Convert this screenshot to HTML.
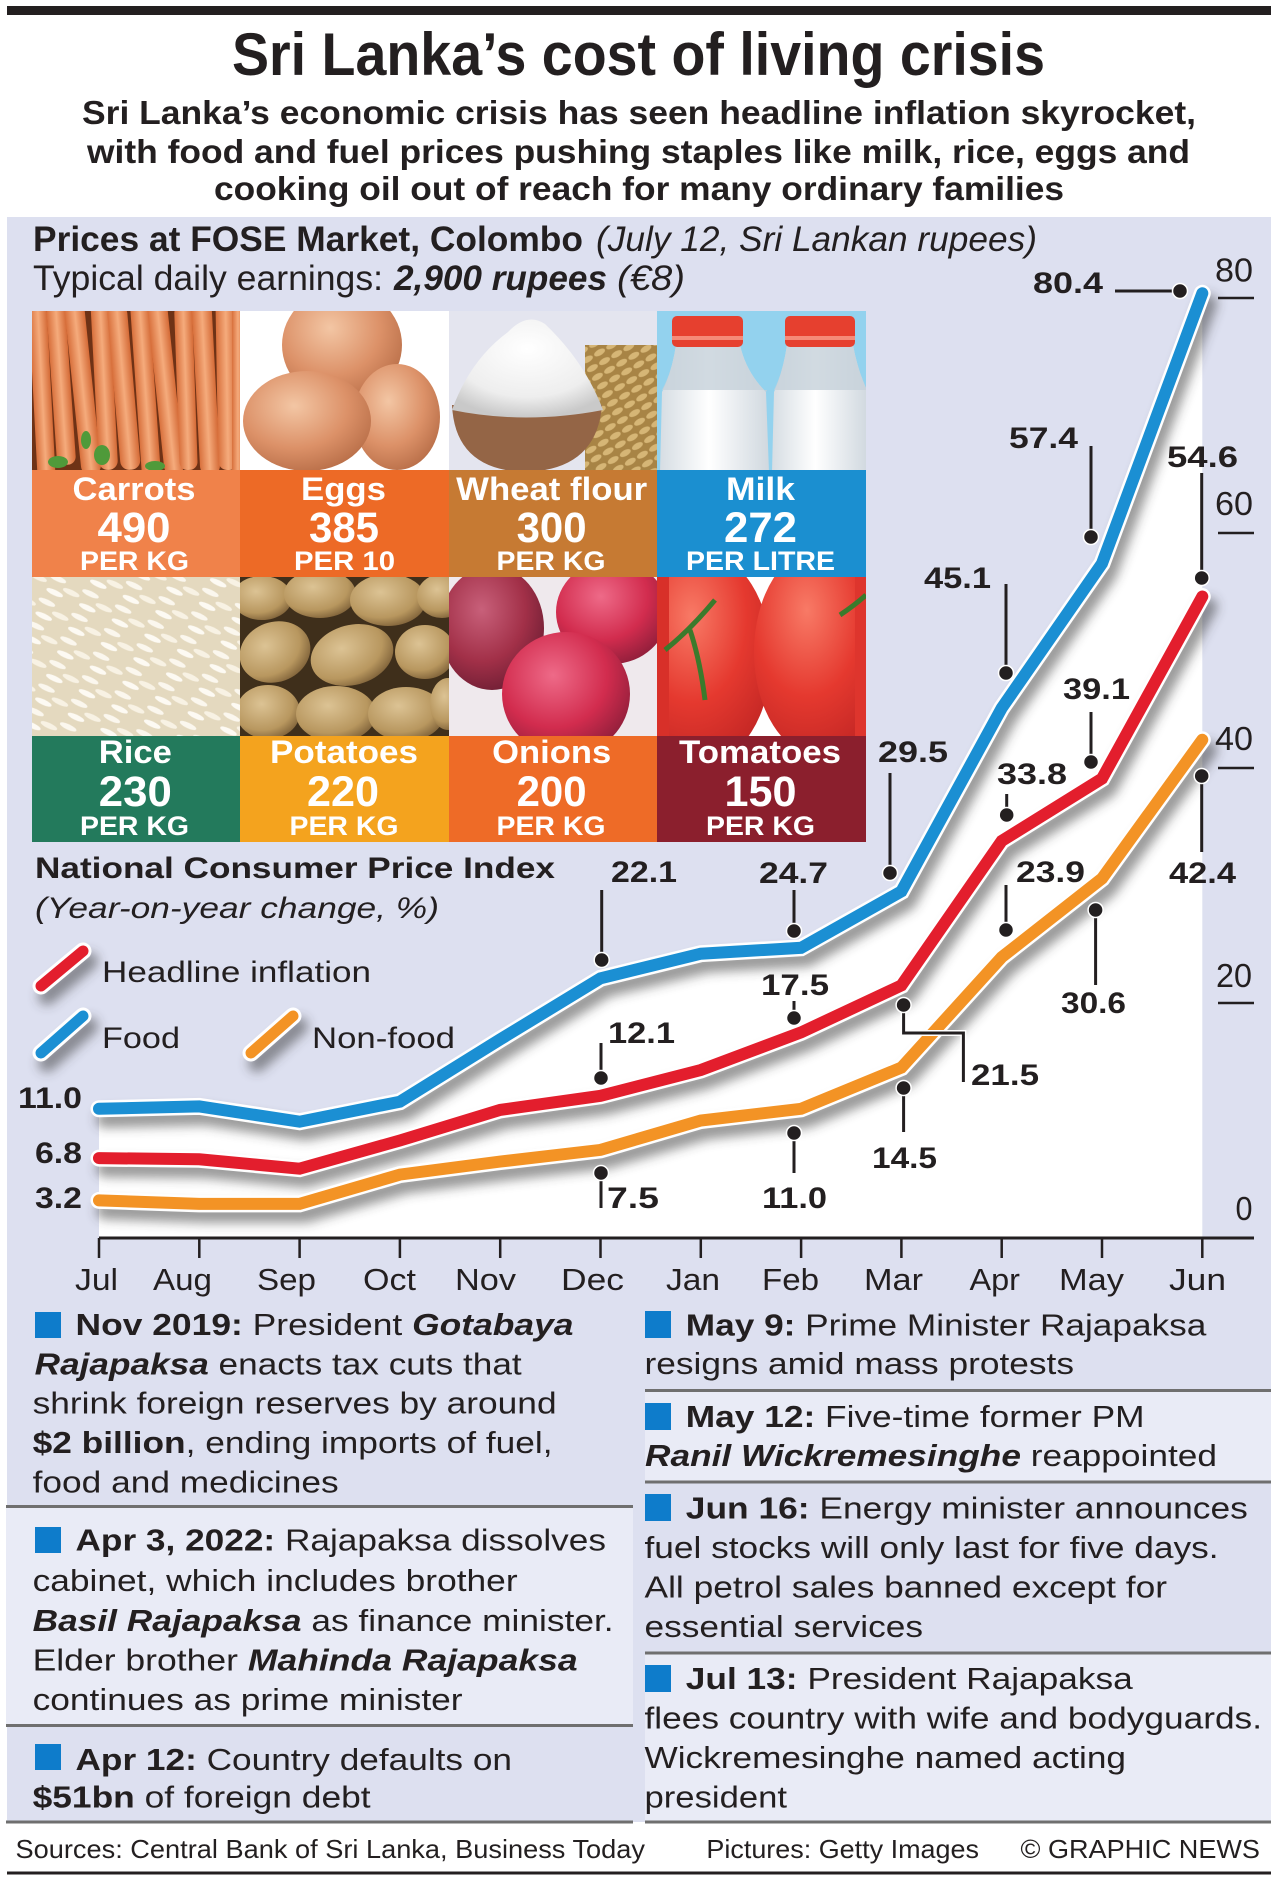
<!DOCTYPE html>
<html><head><meta charset="utf-8"><style>
html,body{margin:0;padding:0;background:#fff}
svg{display:block}
.t{font-family:"Liberation Sans",Arial,Helvetica,sans-serif;fill:#231f20}
.b{font-weight:bold}
.i{font-style:italic}
.w{fill:#fff;font-weight:bold;font-family:"Liberation Sans",Arial,Helvetica,sans-serif}
</style></head><body>
<svg width="1278" height="1878" viewBox="0 0 1278 1878" xmlns="http://www.w3.org/2000/svg">
<defs>
<filter id="blur" x="-20%" y="-20%" width="140%" height="140%"><feGaussianBlur stdDeviation="5.5"/></filter>
<linearGradient id="carrot" x1="0" x2="1" y1="0" y2="0"><stop offset="0" stop-color="#d8703c"/><stop offset="0.5" stop-color="#f5ab7c"/><stop offset="1" stop-color="#d46a36"/></linearGradient>
<radialGradient id="egg" cx="0.4" cy="0.35" r="0.7"><stop offset="0" stop-color="#f3c6a4"/><stop offset="0.6" stop-color="#dc9168"/><stop offset="1" stop-color="#b86e48"/></radialGradient>
<radialGradient id="pot" cx="0.4" cy="0.35" r="0.7"><stop offset="0" stop-color="#dcc394"/><stop offset="0.7" stop-color="#b8975f"/><stop offset="1" stop-color="#7d6038"/></radialGradient>
<radialGradient id="onion" cx="0.4" cy="0.35" r="0.7"><stop offset="0" stop-color="#ee6a88"/><stop offset="0.6" stop-color="#d22c4e"/><stop offset="1" stop-color="#8e1e3a"/></radialGradient>
<radialGradient id="onion2" cx="0.4" cy="0.35" r="0.7"><stop offset="0" stop-color="#c8607a"/><stop offset="0.6" stop-color="#a23048"/><stop offset="1" stop-color="#6e1e34"/></radialGradient>
<radialGradient id="tom" cx="0.4" cy="0.3" r="0.75"><stop offset="0" stop-color="#f87a66"/><stop offset="0.55" stop-color="#e5392f"/><stop offset="1" stop-color="#c22624"/></radialGradient>
<linearGradient id="bottle" x1="0" x2="1" y1="0" y2="0"><stop offset="0" stop-color="#d6dde3"/><stop offset="0.45" stop-color="#ffffff"/><stop offset="1" stop-color="#d0d8df"/></linearGradient>
<radialGradient id="flour" cx="0.5" cy="0.3" r="0.7"><stop offset="0" stop-color="#ffffff"/><stop offset="0.7" stop-color="#eeeeee"/><stop offset="1" stop-color="#c9c9c9"/></radialGradient>
<pattern id="rice" width="36" height="26" patternUnits="userSpaceOnUse" patternTransform="rotate(25)">
<rect width="36" height="26" fill="#e4d9bf"/>
<ellipse cx="9" cy="6" rx="9" ry="2.8" fill="#fbf7ee"/>
<ellipse cx="27" cy="13" rx="9" ry="2.8" fill="#f8f2e4"/>
<ellipse cx="12" cy="20" rx="9" ry="2.8" fill="#fdfaf3"/>
</pattern>
<pattern id="grain" width="14" height="10" patternUnits="userSpaceOnUse" patternTransform="rotate(-30)">
<rect width="14" height="10" fill="#a88445"/>
<ellipse cx="7" cy="5" rx="6" ry="3" fill="#d6b676"/>
</pattern>
<clipPath id="c1"><rect x="32" y="311" width="208" height="159"/></clipPath>
<clipPath id="c2"><rect x="240" y="311" width="209" height="159"/></clipPath>
<clipPath id="c3"><rect x="449" y="311" width="208" height="159"/></clipPath>
<clipPath id="c4"><rect x="657" y="311" width="209" height="159"/></clipPath>
<clipPath id="c5"><rect x="32" y="577" width="208" height="159"/></clipPath>
<clipPath id="c6"><rect x="240" y="577" width="209" height="159"/></clipPath>
<clipPath id="c7"><rect x="449" y="577" width="208" height="159"/></clipPath>
<clipPath id="c8"><rect x="657" y="577" width="209" height="159"/></clipPath>
</defs>

<rect width="1278" height="1878" fill="#fff"/>
<rect x="7" y="6" width="1264" height="9" fill="#231f20"/>

<!-- Title -->
<text class="t b" x="638.5" y="75" font-size="60" text-anchor="middle" textLength="813" lengthAdjust="spacingAndGlyphs">Sri Lanka’s cost of living crisis</text>
<text class="t b" x="639" y="124" font-size="33" text-anchor="middle" textLength="1114" lengthAdjust="spacingAndGlyphs">Sri Lanka’s economic crisis has seen headline inflation skyrocket,</text>
<text class="t b" x="638.5" y="163" font-size="33" text-anchor="middle" textLength="1103" lengthAdjust="spacingAndGlyphs">with food and fuel prices pushing staples like milk, rice, eggs and</text>
<text class="t b" x="639" y="200" font-size="33" text-anchor="middle" textLength="850" lengthAdjust="spacingAndGlyphs">cooking oil out of reach for many ordinary families</text>

<!-- Panel -->
<rect x="7" y="217" width="1264" height="1605" fill="#dde0f0"/>

<text class="t b" x="33" y="251" font-size="35" textLength="550" lengthAdjust="spacingAndGlyphs">Prices at FOSE Market, Colombo</text>
<text class="t i" x="596" y="251" font-size="35" textLength="441" lengthAdjust="spacingAndGlyphs">(July 12, Sri Lankan rupees)</text>
<text class="t" x="33" y="290" font-size="35" textLength="350" lengthAdjust="spacingAndGlyphs">Typical daily earnings:</text>
<text class="t b i" x="394" y="290" font-size="35" textLength="213" lengthAdjust="spacingAndGlyphs">2,900 rupees</text>
<text class="t i" x="617" y="290" font-size="35" textLength="68" lengthAdjust="spacingAndGlyphs">(€8)</text>

<!-- Photos -->
<g clip-path="url(#c1)">
<rect x="32" y="311" width="208" height="159" fill="#6e3216"/>
<g fill="url(#carrot)">
<rect x="33" y="300" width="18" height="180" rx="8" transform="rotate(-3 42 390)"/>
<rect x="52" y="305" width="19" height="160" rx="8" transform="rotate(-4 61 390)"/>
<rect x="73" y="300" width="20" height="175" rx="9" transform="rotate(-6 83 390)"/>
<rect x="95" y="300" width="19" height="170" rx="9" transform="rotate(-3 104 390)"/>
<rect x="114" y="305" width="20" height="165" rx="9" transform="rotate(-5 124 390)"/>
<rect x="136" y="300" width="19" height="180" rx="9" transform="rotate(-4 145 390)"/>
<rect x="156" y="300" width="20" height="175" rx="9" transform="rotate(-6 166 390)"/>
<rect x="177" y="305" width="18" height="165" rx="8" transform="rotate(-2 186 390)"/>
<rect x="196" y="300" width="20" height="175" rx="9" transform="rotate(-3 206 390)"/>
<rect x="217" y="300" width="20" height="170" rx="9" transform="rotate(-1 227 390)"/>
<rect x="232" y="300" width="12" height="180" rx="6"/>
</g>
<g fill="#4f9a3a"><ellipse cx="58" cy="462" rx="10" ry="6"/><ellipse cx="102" cy="455" rx="8" ry="10"/><ellipse cx="155" cy="466" rx="10" ry="5"/><ellipse cx="86" cy="440" rx="5" ry="9"/></g>
</g>

<g clip-path="url(#c2)">
<rect x="240" y="311" width="209" height="159" fill="#ffffff"/>
<ellipse cx="342" cy="345" rx="60" ry="57" fill="url(#egg)"/>
<ellipse cx="397" cy="417" rx="43" ry="53" fill="url(#egg)"/>
<ellipse cx="307" cy="421" rx="64" ry="50" fill="url(#egg)"/>
</g>

<g clip-path="url(#c3)">
<rect x="449" y="311" width="208" height="159" fill="#e4e5ef"/>
<rect x="585" y="345" width="75" height="130" fill="url(#grain)"/>
<path d="M452,405 Q455,470 525,472 Q597,470 602,405 Z" fill="#946546"/>
<path d="M452,410 Q470,360 508,332 Q527,312 545,324 Q585,362 603,410 Q525,425 452,410 Z" fill="url(#flour)"/>
</g>

<g clip-path="url(#c4)">
<rect x="657" y="311" width="209" height="159" fill="#93d2ee"/>
<path d="M676,345 L740,345 Q746,372 766,392 L769,472 L660,472 L662,392 Q672,372 676,345 Z" fill="url(#bottle)"/>
<path d="M787,345 L853,345 Q858,372 868,392 L868,472 L772,472 L774,392 Q783,372 787,345 Z" fill="url(#bottle)"/>
<path d="M676,345 L740,345 Q746,372 766,392 L767,390 L662,390 Q672,372 676,345 Z" fill="#c6d1da" opacity="0.8"/>
<path d="M787,345 L853,345 Q858,372 868,392 L868,390 L774,390 Q783,372 787,345 Z" fill="#c6d1da" opacity="0.8"/>
<rect x="672" y="316" width="71" height="31" rx="5" fill="#e6402f"/>
<rect x="785" y="316" width="70" height="31" rx="5" fill="#e6402f"/>
<rect x="672" y="336" width="71" height="4" fill="#f58a78"/>
<rect x="785" y="336" width="70" height="4" fill="#f58a78"/>
</g>

<g clip-path="url(#c5)">
<rect x="32" y="577" width="208" height="159" fill="url(#rice)"/>
</g>

<g clip-path="url(#c6)">
<rect x="240" y="577" width="209" height="159" fill="#3f2f1b"/>
<g fill="url(#pot)">
<ellipse cx="262" cy="598" rx="30" ry="22"/>
<ellipse cx="320" cy="594" rx="36" ry="24"/>
<ellipse cx="388" cy="600" rx="38" ry="26"/>
<ellipse cx="442" cy="596" rx="25" ry="22"/>
<ellipse cx="275" cy="652" rx="36" ry="30" transform="rotate(-20 275 652)"/>
<ellipse cx="352" cy="655" rx="42" ry="30" transform="rotate(-15 352 655)"/>
<ellipse cx="425" cy="652" rx="30" ry="27"/>
<ellipse cx="268" cy="712" rx="32" ry="27"/>
<ellipse cx="336" cy="714" rx="40" ry="28"/>
<ellipse cx="406" cy="714" rx="38" ry="27"/>
<ellipse cx="448" cy="704" rx="18" ry="26"/>
</g>
</g>

<g clip-path="url(#c7)">
<rect x="449" y="577" width="208" height="159" fill="#efe9ed"/>
<ellipse cx="492" cy="628" rx="52" ry="62" fill="url(#onion2)"/>
<ellipse cx="612" cy="612" rx="56" ry="52" fill="url(#onion)"/>
<ellipse cx="566" cy="694" rx="64" ry="62" fill="url(#onion)"/>
</g>

<g clip-path="url(#c8)">
<rect x="657" y="577" width="209" height="159" fill="#ffffff"/>
<ellipse cx="705" cy="658" rx="66" ry="104" fill="url(#tom)"/>
<ellipse cx="820" cy="652" rx="66" ry="104" fill="url(#tom)"/>
<rect x="657" y="577" width="12" height="159" fill="#d83029"/>
<rect x="855" y="577" width="11" height="159" fill="#de352d"/>
<path d="M665,650 Q690,630 715,600 M690,630 Q700,660 705,700 M840,615 Q855,605 866,595" stroke="#3b7a2c" stroke-width="5" fill="none"/>
</g>

<!-- Bands -->
<rect x="32" y="470" width="208" height="107" fill="#f0824a"/>
<rect x="240" y="470" width="209" height="107" fill="#ed6a26"/>
<rect x="449" y="470" width="208" height="107" fill="#c67a33"/>
<rect x="657" y="470" width="209" height="107" fill="#1b8fd0"/>
<rect x="32" y="736" width="208" height="106" fill="#237a5c"/>
<rect x="240" y="736" width="209" height="106" fill="#f4a31e"/>
<rect x="449" y="736" width="208" height="106" fill="#ee6b27"/>
<rect x="657" y="736" width="209" height="106" fill="#8b1f2d"/>

<g text-anchor="middle">
<text class="w" x="134" y="500" font-size="32" textLength="123" lengthAdjust="spacingAndGlyphs">Carrots</text>
<text class="w" x="134" y="542" font-size="43" textLength="73" lengthAdjust="spacingAndGlyphs">490</text>
<text class="w" x="134.5" y="570" font-size="27" textLength="109" lengthAdjust="spacingAndGlyphs">PER KG</text>
<text class="w" x="343.5" y="500" font-size="32" textLength="85" lengthAdjust="spacingAndGlyphs">Eggs</text>
<text class="w" x="344" y="542" font-size="43" textLength="70" lengthAdjust="spacingAndGlyphs">385</text>
<text class="w" x="344.5" y="570" font-size="27" textLength="101" lengthAdjust="spacingAndGlyphs">PER 10</text>
<text class="w" x="551.7" y="500" font-size="32" textLength="191" lengthAdjust="spacingAndGlyphs">Wheat flour</text>
<text class="w" x="551.6" y="542" font-size="43" textLength="70" lengthAdjust="spacingAndGlyphs">300</text>
<text class="w" x="551" y="570" font-size="27" textLength="109" lengthAdjust="spacingAndGlyphs">PER KG</text>
<text class="w" x="760.5" y="500" font-size="32" textLength="69" lengthAdjust="spacingAndGlyphs">Milk</text>
<text class="w" x="760.5" y="542" font-size="43" textLength="73" lengthAdjust="spacingAndGlyphs">272</text>
<text class="w" x="760.5" y="570" font-size="27" textLength="149" lengthAdjust="spacingAndGlyphs">PER LITRE</text>

<text class="w" x="135.3" y="763" font-size="32" textLength="73" lengthAdjust="spacingAndGlyphs">Rice</text>
<text class="w" x="135.3" y="806" font-size="43" textLength="73" lengthAdjust="spacingAndGlyphs">230</text>
<text class="w" x="134.5" y="835" font-size="27" textLength="109" lengthAdjust="spacingAndGlyphs">PER KG</text>
<text class="w" x="344" y="763" font-size="32" textLength="148" lengthAdjust="spacingAndGlyphs">Potatoes</text>
<text class="w" x="343" y="806" font-size="43" textLength="72" lengthAdjust="spacingAndGlyphs">220</text>
<text class="w" x="344" y="835" font-size="27" textLength="109" lengthAdjust="spacingAndGlyphs">PER KG</text>
<text class="w" x="551.7" y="763" font-size="32" textLength="119" lengthAdjust="spacingAndGlyphs">Onions</text>
<text class="w" x="551.6" y="806" font-size="43" textLength="70" lengthAdjust="spacingAndGlyphs">200</text>
<text class="w" x="551" y="835" font-size="27" textLength="109" lengthAdjust="spacingAndGlyphs">PER KG</text>
<text class="w" x="760" y="763" font-size="32" textLength="162" lengthAdjust="spacingAndGlyphs">Tomatoes</text>
<text class="w" x="760.5" y="806" font-size="43" textLength="72" lengthAdjust="spacingAndGlyphs">150</text>
<text class="w" x="760.5" y="835" font-size="27" textLength="109" lengthAdjust="spacingAndGlyphs">PER KG</text>
</g>

<!-- Chart -->
<path d="M99,1238 L99,1108.8 L199.3,1106.4 L299.6,1121.7 L399.9,1101.7 L500.2,1039.4 L600.5,978.3 L700.8,953.7 L801.1,947.8 L901.4,891.4 L1001.7,708.1 L1102,563.5 L1202.3,293.3 L1202.3,1238 Z" fill="#ffffff"/>

<text class="t b" x="35" y="878" font-size="30" textLength="520" lengthAdjust="spacingAndGlyphs">National Consumer Price Index</text>
<text class="t i" x="35" y="918" font-size="30" textLength="404" lengthAdjust="spacingAndGlyphs">(Year-on-year change, %)</text>

<!-- shadows -->
<g filter="url(#blur)" opacity="0.5" transform="translate(6,10)" fill="none" stroke="#333" stroke-width="18" stroke-linecap="round" stroke-linejoin="round">
<path d="M99,1200.4 L199.3,1203.9 L299.6,1203.9 L399.9,1174.6 L500.2,1161.6 L600.5,1149.9 L700.8,1120.5 L801.1,1108.8 L901.4,1067.6 L1001.7,957.2 L1102,878.5 L1202.3,739.8"/>
<path d="M99,1158.1 L199.3,1159.3 L299.6,1168.7 L399.9,1140.5 L500.2,1109.9 L600.5,1095.8 L700.8,1070 L801.1,1032.4 L901.4,985.4 L1001.7,840.9 L1102,778.6 L1202.3,596.5"/>
<path d="M99,1108.8 L199.3,1106.4 L299.6,1121.7 L399.9,1101.7 L500.2,1039.4 L600.5,978.3 L700.8,953.7 L801.1,947.8 L901.4,891.4 L1001.7,708.1 L1102,563.5 L1202.3,293.3"/>
<path d="M41,986 L83,951 M41,1053 L83,1016 M251,1053 L293,1016"/>
</g>

<g fill="none" stroke-linecap="round" stroke-linejoin="miter" stroke-miterlimit="4">
<path d="M99,1200.4 L199.3,1203.9 L299.6,1203.9 L399.9,1174.6 L500.2,1161.6 L600.5,1149.9 L700.8,1120.5 L801.1,1108.8 L901.4,1067.6 L1001.7,957.2 L1102,878.5 L1202.3,739.8" stroke="#fff" stroke-width="17"/>
<path d="M99,1200.4 L199.3,1203.9 L299.6,1203.9 L399.9,1174.6 L500.2,1161.6 L600.5,1149.9 L700.8,1120.5 L801.1,1108.8 L901.4,1067.6 L1001.7,957.2 L1102,878.5 L1202.3,739.8" stroke="#f39325" stroke-width="12"/>
<path d="M99,1158.1 L199.3,1159.3 L299.6,1168.7 L399.9,1140.5 L500.2,1109.9 L600.5,1095.8 L700.8,1070 L801.1,1032.4 L901.4,985.4 L1001.7,840.9 L1102,778.6 L1202.3,596.5" stroke="#fff" stroke-width="17"/>
<path d="M99,1158.1 L199.3,1159.3 L299.6,1168.7 L399.9,1140.5 L500.2,1109.9 L600.5,1095.8 L700.8,1070 L801.1,1032.4 L901.4,985.4 L1001.7,840.9 L1102,778.6 L1202.3,596.5" stroke="#e31e2d" stroke-width="12"/>
<path d="M99,1108.8 L199.3,1106.4 L299.6,1121.7 L399.9,1101.7 L500.2,1039.4 L600.5,978.3 L700.8,953.7 L801.1,947.8 L901.4,891.4 L1001.7,708.1 L1102,563.5 L1202.3,293.3" stroke="#fff" stroke-width="17"/>
<path d="M99,1108.8 L199.3,1106.4 L299.6,1121.7 L399.9,1101.7 L500.2,1039.4 L600.5,978.3 L700.8,953.7 L801.1,947.8 L901.4,891.4 L1001.7,708.1 L1102,563.5 L1202.3,293.3" stroke="#1b8fd3" stroke-width="12"/>
<!-- legend pills -->
<path d="M41,986 L83,951 M41,1053 L83,1016 M251,1053 L293,1016" stroke="#fff" stroke-width="17"/>
<path d="M41,986 L83,951" stroke="#e31e2d" stroke-width="11"/>
<path d="M41,1053 L83,1016" stroke="#1b8fd3" stroke-width="11"/>
<path d="M251,1053 L293,1016" stroke="#f39325" stroke-width="11"/>
</g>

<text class="t" x="102" y="982" font-size="30" textLength="269" lengthAdjust="spacingAndGlyphs">Headline inflation</text>
<text class="t" x="102" y="1048" font-size="30" textLength="78" lengthAdjust="spacingAndGlyphs">Food</text>
<text class="t" x="312" y="1048" font-size="30" textLength="143" lengthAdjust="spacingAndGlyphs">Non-food</text>

<!-- axis -->
<g stroke="#231f20" stroke-width="3" fill="none">
<path d="M99,1238 L1254,1238"/>
<path d="M99,1238 V1258 M199.3,1238 V1258 M299.6,1238 V1258 M399.9,1238 V1258 M500.2,1238 V1258 M600.5,1238 V1258 M700.8,1238 V1258 M801.1,1238 V1258 M901.4,1238 V1258 M1001.7,1238 V1258 M1102,1238 V1258 M1202.3,1238 V1258" stroke-width="2.5"/>
<path d="M1218,298 H1254 M1218,533 H1254 M1218,768 H1254 M1218,1003 H1254" stroke-width="2.5"/>
</g>
<g class="t" font-size="33">
<text class="t" x="1234" y="281.5" text-anchor="middle" textLength="38" lengthAdjust="spacingAndGlyphs">80</text>
<text class="t" x="1234" y="515" text-anchor="middle" textLength="38" lengthAdjust="spacingAndGlyphs">60</text>
<text class="t" x="1234" y="750" text-anchor="middle" textLength="38" lengthAdjust="spacingAndGlyphs">40</text>
<text class="t" x="1234" y="987" text-anchor="middle" textLength="36" lengthAdjust="spacingAndGlyphs">20</text>
<text class="t" x="1244" y="1220" text-anchor="middle" textLength="17" lengthAdjust="spacingAndGlyphs">0</text>
</g>

<g class="t" font-size="31">
<text class="t" x="75" y="1290" textLength="43" lengthAdjust="spacingAndGlyphs">Jul</text>
<text class="t" x="153" y="1290" textLength="59" lengthAdjust="spacingAndGlyphs">Aug</text>
<text class="t" x="257" y="1290" textLength="59" lengthAdjust="spacingAndGlyphs">Sep</text>
<text class="t" x="363" y="1290" textLength="53" lengthAdjust="spacingAndGlyphs">Oct</text>
<text class="t" x="455" y="1290" textLength="61" lengthAdjust="spacingAndGlyphs">Nov</text>
<text class="t" x="561" y="1290" textLength="63" lengthAdjust="spacingAndGlyphs">Dec</text>
<text class="t" x="666" y="1290" textLength="54" lengthAdjust="spacingAndGlyphs">Jan</text>
<text class="t" x="762" y="1290" textLength="57" lengthAdjust="spacingAndGlyphs">Feb</text>
<text class="t" x="864" y="1290" textLength="59" lengthAdjust="spacingAndGlyphs">Mar</text>
<text class="t" x="969.5" y="1290" textLength="50.5" lengthAdjust="spacingAndGlyphs">Apr</text>
<text class="t" x="1059" y="1290" textLength="65" lengthAdjust="spacingAndGlyphs">May</text>
<text class="t" x="1169" y="1290" textLength="57" lengthAdjust="spacingAndGlyphs">Jun</text>
</g>

<!-- left value labels -->
<g font-size="30">
<text class="t b" x="82" y="1108" text-anchor="end" textLength="64" lengthAdjust="spacingAndGlyphs">11.0</text>
<text class="t b" x="82" y="1163" text-anchor="end" textLength="47" lengthAdjust="spacingAndGlyphs">6.8</text>
<text class="t b" x="82" y="1208" text-anchor="end" textLength="47" lengthAdjust="spacingAndGlyphs">3.2</text>
</g>

<!-- leaders -->
<g fill="none" stroke="#fff" stroke-width="6" stroke-linecap="butt">
<path d="M903.6,1005 V1033 H963.4 V1082"/>
</g>
<g fill="none" stroke="#231f20" stroke-width="3">
<path d="M601.7,890 V960"/>
<path d="M794,890 V931"/>
<path d="M890,773 V873"/>
<path d="M1006,584 V673"/>
<path d="M1091,446 V537"/>
<path d="M1115,291 H1180"/>
<path d="M601,1043 V1078"/>
<path d="M794,1001 V1018"/>
<path d="M903.6,1005 V1033 H963.4 V1082"/>
<path d="M1006.7,794 V815"/>
<path d="M1091,712 V762"/>
<path d="M1201.7,473 V578"/>
<path d="M601,1173 V1208"/>
<path d="M794,1133 V1173"/>
<path d="M903.6,1088 V1132"/>
<path d="M1006,885 V930"/>
<path d="M1095.6,910 V985"/>
<path d="M1201.7,776 V852"/>
</g>
<g fill="#231f20" stroke="#fff" stroke-width="1.5">
<circle cx="601.7" cy="960" r="7.5"/>
<circle cx="794" cy="931" r="7.5"/>
<circle cx="890" cy="873" r="7.5"/>
<circle cx="1006" cy="673" r="7.5"/>
<circle cx="1091" cy="537" r="7.5"/>
<circle cx="1180" cy="291" r="7.5"/>
<circle cx="601" cy="1078" r="7.5"/>
<circle cx="794" cy="1018" r="7.5"/>
<circle cx="903.6" cy="1005" r="7.5"/>
<circle cx="1006.7" cy="815" r="7.5"/>
<circle cx="1091" cy="762" r="7.5"/>
<circle cx="1201.7" cy="578" r="7.5"/>
<circle cx="601" cy="1173" r="7.5"/>
<circle cx="794" cy="1133" r="7.5"/>
<circle cx="903.6" cy="1088" r="7.5"/>
<circle cx="1006" cy="930" r="7.5"/>
<circle cx="1095.6" cy="910" r="7.5"/>
<circle cx="1201.7" cy="776" r="7.5"/>
</g>
<g font-size="30">
<text class="t b" x="611" y="882" textLength="66" lengthAdjust="spacingAndGlyphs">22.1</text>
<text class="t b" x="759" y="883" textLength="69" lengthAdjust="spacingAndGlyphs">24.7</text>
<text class="t b" x="878" y="762" textLength="70" lengthAdjust="spacingAndGlyphs">29.5</text>
<text class="t b" x="924" y="588" textLength="67" lengthAdjust="spacingAndGlyphs">45.1</text>
<text class="t b" x="1009" y="448" textLength="69" lengthAdjust="spacingAndGlyphs">57.4</text>
<text class="t b" x="1033" y="293" textLength="70" lengthAdjust="spacingAndGlyphs">80.4</text>
<text class="t b" x="608" y="1043" textLength="67" lengthAdjust="spacingAndGlyphs">12.1</text>
<text class="t b" x="761" y="995" textLength="68" lengthAdjust="spacingAndGlyphs">17.5</text>
<text class="t b" x="971" y="1085" textLength="68" lengthAdjust="spacingAndGlyphs">21.5</text>
<text class="t b" x="997" y="784" textLength="70" lengthAdjust="spacingAndGlyphs">33.8</text>
<text class="t b" x="1063" y="699" textLength="67" lengthAdjust="spacingAndGlyphs">39.1</text>
<text class="t b" x="1167" y="467" textLength="71" lengthAdjust="spacingAndGlyphs">54.6</text>
<text class="t b" x="607" y="1208" textLength="52" lengthAdjust="spacingAndGlyphs">7.5</text>
<text class="t b" x="762" y="1208" textLength="65" lengthAdjust="spacingAndGlyphs">11.0</text>
<text class="t b" x="872" y="1168" textLength="65" lengthAdjust="spacingAndGlyphs">14.5</text>
<text class="t b" x="1016" y="882" textLength="69" lengthAdjust="spacingAndGlyphs">23.9</text>
<text class="t b" x="1061" y="1013" textLength="65" lengthAdjust="spacingAndGlyphs">30.6</text>
<text class="t b" x="1169" y="883" textLength="67" lengthAdjust="spacingAndGlyphs">42.4</text>
</g>

<!-- Bottom boxes -->
<rect x="6" y="1508" width="627" height="217" fill="#e9ebf6"/>
<rect x="645" y="1392" width="626" height="89" fill="#e9ebf6"/>
<rect x="645" y="1654" width="626" height="167" fill="#e9ebf6"/>
<g fill="#6f6f6f">
<rect x="6" y="1505" width="627" height="3"/>
<rect x="6" y="1724" width="627" height="3"/>
<rect x="6" y="1820.5" width="627" height="3"/>
<rect x="645" y="1389" width="626" height="3"/>
<rect x="645" y="1480.5" width="626" height="3"/>
<rect x="645" y="1651.5" width="626" height="3"/>
<rect x="645" y="1820.5" width="626" height="3"/>
</g>
<g fill="#0e7ccb">
<rect x="35" y="1312" width="26" height="26"/>
<rect x="35" y="1527" width="26" height="26"/>
<rect x="35" y="1744" width="26" height="26"/>
<rect x="645" y="1311" width="26" height="27"/>
<rect x="645" y="1403" width="26" height="27"/>
<rect x="645" y="1494" width="26" height="27"/>
<rect x="645" y="1665" width="26" height="27"/>
</g>

<g font-size="31">
<text class="t" x="75.5" y="1335" textLength="498" lengthAdjust="spacingAndGlyphs"><tspan font-weight="bold">Nov 2019:</tspan> President <tspan font-weight="bold" font-style="italic">Gotabaya</tspan></text>
<text class="t" x="34.7" y="1374.4" textLength="487" lengthAdjust="spacingAndGlyphs"><tspan font-weight="bold" font-style="italic">Rajapaksa</tspan> enacts tax cuts that</text>
<text class="t" x="32.6" y="1413.7" textLength="524" lengthAdjust="spacingAndGlyphs">shrink foreign reserves by around</text>
<text class="t" x="32.6" y="1453" textLength="520" lengthAdjust="spacingAndGlyphs"><tspan font-weight="bold">$2 billion</tspan>, ending imports of fuel,</text>
<text class="t" x="32.6" y="1492.5" textLength="306" lengthAdjust="spacingAndGlyphs">food and medicines</text>

<text class="t" x="75.5" y="1550.6" textLength="530.5" lengthAdjust="spacingAndGlyphs"><tspan font-weight="bold">Apr 3, 2022:</tspan> Rajapaksa dissolves</text>
<text class="t" x="32.6" y="1591" textLength="485" lengthAdjust="spacingAndGlyphs">cabinet, which includes brother</text>
<text class="t" x="32.6" y="1631" textLength="581" lengthAdjust="spacingAndGlyphs"><tspan font-weight="bold" font-style="italic">Basil Rajapaksa</tspan> as finance minister.</text>
<text class="t" x="32.6" y="1670.6" textLength="545" lengthAdjust="spacingAndGlyphs">Elder brother <tspan font-weight="bold" font-style="italic">Mahinda Rajapaksa</tspan></text>
<text class="t" x="32.6" y="1710" textLength="430" lengthAdjust="spacingAndGlyphs">continues as prime minister</text>

<text class="t" x="75.5" y="1770" textLength="436.5" lengthAdjust="spacingAndGlyphs"><tspan font-weight="bold">Apr 12:</tspan> Country defaults on</text>
<text class="t" x="32.6" y="1807.4" textLength="338" lengthAdjust="spacingAndGlyphs"><tspan font-weight="bold">$51bn</tspan> of foreign debt</text>

<text class="t" x="685.8" y="1335.7" textLength="520.6" lengthAdjust="spacingAndGlyphs"><tspan font-weight="bold">May 9:</tspan> Prime Minister Rajapaksa</text>
<text class="t" x="644.5" y="1374" textLength="429.5" lengthAdjust="spacingAndGlyphs">resigns amid mass protests</text>

<text class="t" x="685.8" y="1427" textLength="458.7" lengthAdjust="spacingAndGlyphs"><tspan font-weight="bold">May 12:</tspan> Five-time former PM</text>
<text class="t" x="645" y="1466" textLength="572" lengthAdjust="spacingAndGlyphs"><tspan font-weight="bold" font-style="italic">Ranil Wickremesinghe</tspan> reappointed</text>

<text class="t" x="685.8" y="1518.7" textLength="562" lengthAdjust="spacingAndGlyphs"><tspan font-weight="bold">Jun 16:</tspan> Energy minister announces</text>
<text class="t" x="644.5" y="1558" textLength="574" lengthAdjust="spacingAndGlyphs">fuel stocks will only last for five days.</text>
<text class="t" x="644.5" y="1597.5" textLength="522.5" lengthAdjust="spacingAndGlyphs">All petrol sales banned except for</text>
<text class="t" x="644.5" y="1636.8" textLength="278.5" lengthAdjust="spacingAndGlyphs">essential services</text>

<text class="t" x="685.8" y="1689" textLength="447" lengthAdjust="spacingAndGlyphs"><tspan font-weight="bold">Jul 13:</tspan> President Rajapaksa</text>
<text class="t" x="644.5" y="1728.7" textLength="617.5" lengthAdjust="spacingAndGlyphs">flees country with wife and bodyguards.</text>
<text class="t" x="644.5" y="1768" textLength="481.5" lengthAdjust="spacingAndGlyphs">Wickremesinghe named acting</text>
<text class="t" x="644.5" y="1807.4" textLength="142.5" lengthAdjust="spacingAndGlyphs">president</text>
</g>

<!-- Footer -->
<g font-size="26">
<text class="t" x="15.5" y="1858" textLength="629.5" lengthAdjust="spacingAndGlyphs">Sources: Central Bank of Sri Lanka, Business Today</text>
<text class="t" x="706.4" y="1858" textLength="272.6" lengthAdjust="spacingAndGlyphs">Pictures: Getty Images</text>
<text class="t" x="1020.5" y="1858" textLength="239.5" lengthAdjust="spacingAndGlyphs">© GRAPHIC NEWS</text>
</g>
<rect x="7" y="1871.5" width="1264" height="3" fill="#231f20"/>
</svg>
</body></html>
